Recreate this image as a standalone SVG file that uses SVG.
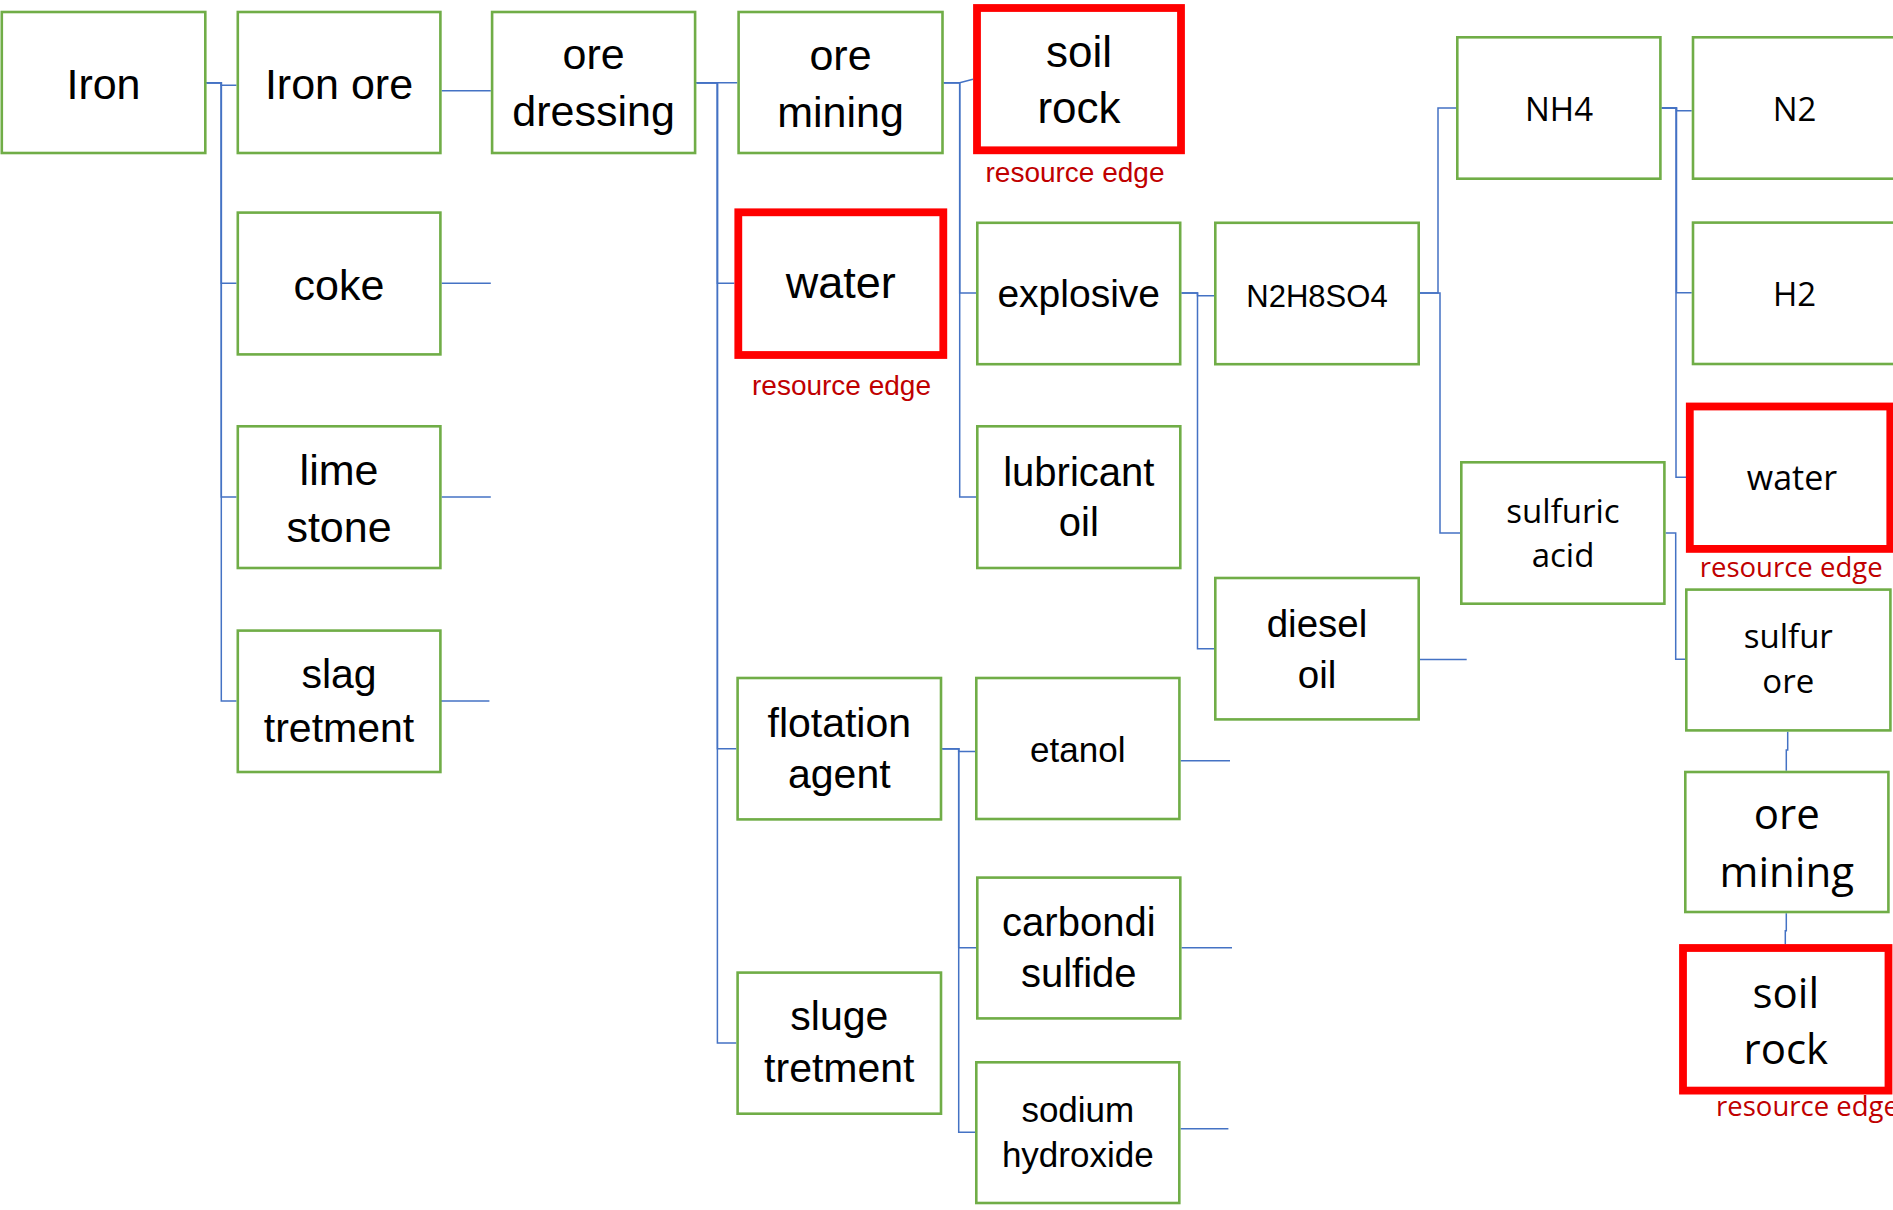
<svg xmlns="http://www.w3.org/2000/svg" width="1893" height="1210" viewBox="0 0 1893 1210">
<style>
.g{fill:#fff;stroke:#70AD47;stroke-width:2.6}
.r{fill:#fff;stroke:#FF0000;stroke-width:7.8}
.l{fill:none;stroke:#4472C4;stroke-width:1.5}
.c{font-family:"Liberation Sans",Arial,sans-serif;fill:#000;text-anchor:middle}
.s{font-family:"Open Sans","Noto Sans",sans-serif;fill:#000;text-anchor:middle}
.re{fill:#C00000}
</style>
<rect width="1893" height="1210" fill="#fff"/>
<g id="connectors">
<path class="l" d="M206.5,82.7 H221.3 V85.3 H236.5"/>
<path class="l" d="M206.5,82.7 H221.3 V283.3 H236.5"/>
<path class="l" d="M206.5,82.7 H221.3 V497 H236.5"/>
<path class="l" d="M206.5,82.7 H221.3 V701 H236.5"/>
<path class="l" d="M441.7,90.7 H490.8"/>
<path class="l" d="M441.7,283.3 H490.8"/>
<path class="l" d="M441.7,497 H490.8"/>
<path class="l" d="M440,701 H489.4"/>
<path class="l" d="M696.5,82.7 H737.3"/>
<path class="l" d="M696.5,82.7 H717.4 V283.3 H734.3"/>
<path class="l" d="M696.5,82.7 H717.4 V748.7 H736.3"/>
<path class="l" d="M696.5,82.7 H717.4 V1043 H736.3"/>
<path class="l" d="M943.8,82.7 H959.7 L973,79.3"/>
<path class="l" d="M943.8,82.7 H959.7 V293 H976"/>
<path class="l" d="M943.8,82.7 H959.7 V497 H976"/>
<path class="l" d="M1181.5,293 H1197.5 V295.7 H1214"/>
<path class="l" d="M1181.5,293 H1197.5 V648.7 H1214"/>
<path class="l" d="M1420,293 H1438 V108 H1456"/>
<path class="l" d="M1420,293 H1440 V533 H1460"/>
<path class="l" d="M1661.7,108 H1676.5 V110.7 H1691.7"/>
<path class="l" d="M1661.7,108 H1676.5 V292.7 H1691.7"/>
<path class="l" d="M1661.7,108 H1676 V477.3 H1686"/>
<path class="l" d="M1665.7,533 H1675.7 V659.3 H1685"/>
<path class="l" d="M1787.7,731.7 V750 H1786.3 V770.7"/>
<path class="l" d="M1786.3,913.3 V930.7 H1785.3 V944.3"/>
<path class="l" d="M1417,659.5 H1466.7"/>
<path class="l" d="M942.3,748.7 H958.7 V751.5 H975"/>
<path class="l" d="M942.3,748.7 H958.7 V947.7 H976"/>
<path class="l" d="M942.3,748.7 H958.7 V1132.3 H975"/>
<path class="l" d="M1180.7,760.7 H1230"/>
<path class="l" d="M1181.6,947.7 H1232"/>
<path class="l" d="M1180.6,1128.7 H1228.4"/>
</g>
<g id="iron"><rect class="g" x="1.8" y="12" width="203.5" height="141"/><text class="c" font-size="43" x="103.5" y="99">Iron</text></g>
<g id="iron-ore"><rect class="g" x="237.8" y="12" width="202.6" height="141"/><text class="c" font-size="43" x="339" y="99">Iron ore</text></g>
<g id="ore-dressing"><rect class="g" x="492.1" y="12" width="203" height="141"/><text class="c" font-size="43"><tspan x="593.6" y="69">ore</tspan><tspan x="593.6" y="126">dressing</tspan></text></g>
<g id="coke"><rect class="g" x="237.8" y="212.6" width="202.6" height="141.8"/><text class="c" font-size="43" x="339" y="300">coke</text></g>
<g id="lime-stone"><rect class="g" x="237.8" y="426.3" width="202.6" height="141.7"/><text class="c" font-size="43"><tspan x="339" y="485">lime</tspan><tspan x="339" y="542.3">stone</tspan></text></g>
<g id="slag-tretment"><rect class="g" x="237.8" y="630.6" width="202.6" height="141.4"/><text class="c" font-size="41"><tspan x="339" y="688.3">slag</tspan><tspan x="339" y="741.7">tretment</tspan></text></g>
<g id="ore-mining"><rect class="g" x="738.6" y="12" width="203.9" height="141"/><text class="c" font-size="43"><tspan x="840.5" y="70">ore</tspan><tspan x="840.5" y="126.7">mining</tspan></text></g>
<g id="soil-rock"><rect class="r" x="977" y="8" width="204" height="142.3"/><text class="c" font-size="44"><tspan x="1079" y="66.7">soil</tspan><tspan x="1079" y="123.3">rock</tspan></text><text class="c re" font-size="28" x="1075" y="181.7">resource edge</text></g>
<g id="water"><rect class="r" x="738.3" y="212.3" width="205" height="142.7"/><text class="c" font-size="45" x="840.8" y="298.3">water</text><text class="c re" font-size="28" x="841.5" y="395">resource edge</text></g>
<g id="explosive"><rect class="g" x="977.3" y="222.8" width="202.9" height="141.4"/><text class="c" font-size="39" x="1078.7" y="307.3">explosive</text></g>
<g id="n2h8so4"><rect class="g" x="1215.3" y="222.8" width="203.4" height="141.4"/><text class="c" font-size="31" x="1317" y="306.7">N2H8SO4</text></g>
<g id="lubricant-oil"><rect class="g" x="977.3" y="426.3" width="203" height="141.7"/><text class="c" font-size="40"><tspan x="1078.8" y="486">lubricant</tspan><tspan x="1078.8" y="536">oil</tspan></text></g>
<g id="diesel-oil"><rect class="g" x="1215.3" y="578" width="203.4" height="141.4"/><text class="c" font-size="38.5"><tspan x="1317" y="637.3">diesel</tspan><tspan x="1317" y="688.3">oil</tspan></text></g>
<g id="flotation-agent"><rect class="g" x="737.6" y="678" width="203.4" height="141.4"/><text class="c" font-size="41"><tspan x="839.3" y="737.3">flotation</tspan><tspan x="839.3" y="788.3">agent</tspan></text></g>
<g id="etanol"><rect class="g" x="976.3" y="678" width="203.1" height="141"/><text class="c" font-size="35" x="1077.8" y="761.7">etanol</text></g>
<g id="carbondi-sulfide"><rect class="g" x="977.3" y="877.6" width="203" height="140.8"/><text class="c" font-size="40"><tspan x="1078.8" y="936">carbondi</tspan><tspan x="1078.8" y="986.7">sulfide</tspan></text></g>
<g id="sluge-tretment"><rect class="g" x="737.6" y="972.6" width="203.4" height="141.1"/><text class="c" font-size="41"><tspan x="839.3" y="1030">sluge</tspan><tspan x="839.3" y="1081.7">tretment</tspan></text></g>
<g id="sodium-hydroxide"><rect class="g" x="976.3" y="1062.3" width="203" height="140.7"/><text class="c" font-size="35"><tspan x="1077.8" y="1122.3">sodium</tspan><tspan x="1077.8" y="1166.7">hydroxide</tspan></text></g>
<g id="nh4"><rect class="g" x="1457.3" y="37.3" width="203.1" height="141.4"/><text class="s" font-size="33" x="1559" y="120.7">NH4</text></g>
<g id="n2"><rect class="g" x="1693" y="37.3" width="203.7" height="141.4"/><text class="s" font-size="33" x="1794.5" y="120.7">N2</text></g>
<g id="h2"><rect class="g" x="1693" y="222.6" width="203.7" height="141.4"/><text class="s" font-size="33" x="1794.5" y="305.7">H2</text></g>
<g id="water-2"><rect class="r" x="1689.8" y="406.5" width="200.5" height="142.4"/><text class="s" font-size="34" x="1792" y="490">water</text><text class="s re" font-size="27.5" x="1791.2" y="577.3">resource edge</text></g>
<g id="sulfuric-acid"><rect class="g" x="1461.3" y="462.3" width="203.1" height="141.4"/><text class="s" font-size="33"><tspan x="1563" y="522.7">sulfuric</tspan><tspan x="1563" y="567.3">acid</tspan></text></g>
<g id="sulfur-ore"><rect class="g" x="1686.3" y="589.6" width="204.1" height="140.8"/><text class="s" font-size="33"><tspan x="1788.3" y="648.3">sulfur</tspan><tspan x="1788.3" y="693.3">ore</tspan></text></g>
<g id="ore-mining-2"><rect class="g" x="1685.3" y="772" width="203.1" height="140"/><text class="s" font-size="42"><tspan x="1786.8" y="829.3">ore</tspan><tspan x="1786.8" y="886.7">mining</tspan></text></g>
<g id="soil-rock-2"><rect class="r" x="1683" y="948" width="205.5" height="142.6"/><text class="s" font-size="42"><tspan x="1785.8" y="1007.7">soil</tspan><tspan x="1785.8" y="1064">rock</tspan></text><text class="s re" font-size="27.5" x="1807.5" y="1116">resource edge</text></g>
</svg>
